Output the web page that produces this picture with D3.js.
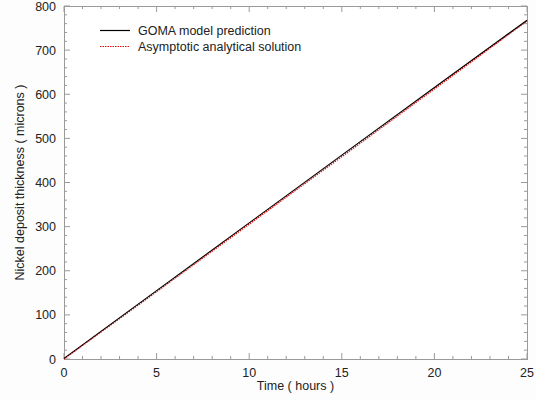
<!DOCTYPE html>
<html>
<head>
<meta charset="utf-8">
<script src="https://cdn.jsdelivr.net/npm/d3@7"></script>
<style>
  html, body { margin: 0; padding: 0; background: #fdfdfd; }
  svg { display: block; }
  text { font-family: "Liberation Sans", Arial, sans-serif; fill: #222; }
</style>
</head>
<body>
<svg id="chart" width="536" height="400"></svg>
<script>
// Deposit thickness (microns) against plating time (hours)
const timeHours = [0, 5, 10, 15, 20, 25];
const gomaThickness = [0, 153.6, 307.2, 460.6, 613.8, 766.5];
const asymptoticThickness = [0, 152.6, 305.5, 458.6, 612.0, 766.0];
const xTicks = [0, 5, 10, 15, 20, 25];
const yTicks = [0, 100, 200, 300, 400, 500, 600, 700, 800];

const svg = d3.select("#chart");
const m = { left: 64, right: 9, top: 6, bottom: 41 };
const W = 536, H = 400;

const x = d3.scaleLinear().domain([0, 25]).range([m.left, W - m.right]);
const y = d3.scaleLinear().domain([0, 800]).range([H - m.bottom, m.top]);

svg.append("rect").attr("x", m.left).attr("y", m.top)
  .attr("width", x(25) - x(0)).attr("height", y(0) - y(800))
  .attr("fill", "#ffffff");

const frameColor = "#9a9a9a";
const g = svg.append("g");

// inward-pointing ticks on all four sides
const xMinor = d3.range(0, 26, 1);
const yMinor = d3.range(0, 801, 20);
function drawTicks(vals, isMajor) {
  const len = isMajor ? 6 : 3;
  vals.forEach(v => {
    g.append("line").attr("x1", x(v)).attr("x2", x(v)).attr("y1", y(0)).attr("y2", y(0) - len)
      .attr("stroke", frameColor);
    g.append("line").attr("x1", x(v)).attr("x2", x(v)).attr("y1", y(800)).attr("y2", y(800) + len)
      .attr("stroke", frameColor);
  });
}
function drawYTicks(vals, isMajor) {
  const len = isMajor ? 6 : 3;
  vals.forEach(v => {
    g.append("line").attr("y1", y(v)).attr("y2", y(v)).attr("x1", x(0)).attr("x2", x(0) + len)
      .attr("stroke", frameColor);
    g.append("line").attr("y1", y(v)).attr("y2", y(v)).attr("x1", x(25)).attr("x2", x(25) - len)
      .attr("stroke", frameColor);
  });
}
drawTicks(xMinor.filter(v => !xTicks.includes(v)), false);
drawTicks(xTicks, true);
drawYTicks(yMinor.filter(v => !yTicks.includes(v)), false);
drawYTicks(yTicks, true);

g.append("rect").attr("x", x(0) + 0.5).attr("y", y(800) + 0.5)
  .attr("width", x(25) - x(0)).attr("height", y(0) - y(800))
  .attr("fill", "none").attr("stroke", frameColor);

// tick labels
svg.selectAll(".xl").data(xTicks).enter().append("text")
  .attr("x", d => x(d)).attr("y", y(0) + 18)
  .attr("text-anchor", "middle").attr("font-size", 12.5).text(d => d);
svg.selectAll(".yl").data(yTicks).enter().append("text")
  .attr("x", x(0) - 8).attr("y", d => y(d) + 4.5)
  .attr("text-anchor", "end").attr("font-size", 12.5).text(d => d);

// axis titles
svg.append("text").attr("x", (x(0) + x(25)) / 2).attr("y", 390)
  .attr("text-anchor", "middle").attr("font-size", 12.5).text("Time ( hours )");
svg.append("text").attr("transform", `translate(24,${(y(0) + y(800)) / 2}) rotate(-90)`)
  .attr("text-anchor", "middle").attr("font-size", 12.5)
  .text("Nickel deposit thickness ( microns )");

// series
const line = d3.line().x((d, i) => x(timeHours[i])).y(d => y(d));
svg.append("path").datum(asymptoticThickness).attr("d", line)
  .attr("fill", "none").attr("stroke", "#e01010").attr("stroke-width", 1.3)
  .attr("stroke-dasharray", "1.5,1");
svg.append("path").datum(gomaThickness).attr("d", line)
  .attr("fill", "none").attr("stroke", "#000").attr("stroke-width", 1.1)
  .attr("transform", "translate(0,-0.6)");

// legend
const leg = svg.append("g");
leg.append("line").attr("x1", 100).attr("x2", 130).attr("y1", 30.5).attr("y2", 30.5)
  .attr("stroke", "#000").attr("stroke-width", 1.2);
leg.append("text").attr("x", 138).attr("y", 35).attr("font-size", 12.5).text("GOMA model prediction");
leg.append("line").attr("x1", 100).attr("x2", 130).attr("y1", 46.5).attr("y2", 46.5)
  .attr("stroke", "#e01010").attr("stroke-width", 1.2).attr("stroke-dasharray", "1.5,1");
leg.append("text").attr("x", 138).attr("y", 51).attr("font-size", 12.5).text("Asymptotic analytical solution");
</script>
</body>
</html>
